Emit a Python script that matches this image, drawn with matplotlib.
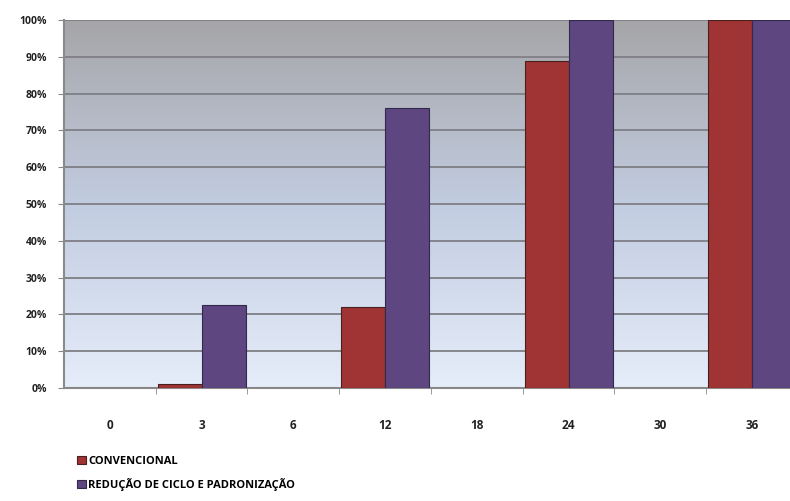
import numpy as np
import matplotlib.pyplot as plt

# dados
meses = ['0', '3', '6', '12', '18', '24', '30', '36']
convencional = [0, 1, 0, 22, 0, 89, 0, 100]
reducao = [0, 22.5, 0, 76, 0, 100, 0, 100]
yticks = [0, 10, 20, 30, 40, 50, 60, 70, 80, 90, 100]

plt.rcParams['font.family'] = ['Open Sans', 'DejaVu Sans']

fig = plt.figure(figsize=(7.9, 5.01), dpi=100)
ax = fig.add_axes([0.081, 0.2255, 0.929, 0.7345])

x = np.arange(len(meses))
ax.set_xlim(-0.5, len(meses) - 0.5)
ax.set_ylim(0, 100)

# fundo em degradê (cinza em cima, azul claro embaixo)
top = np.array([0.65, 0.65, 0.66])
mid = np.array([0.76, 0.80, 0.88])
bot = np.array([0.90, 0.93, 0.98])
n = 256
t = np.linspace(0, 1, n)[:, None]
grad = np.where(t < 0.5, top + (mid - top) * (t / 0.5), mid + (bot - mid) * ((t - 0.5) / 0.5))
img = grad.reshape(n, 1, 3)
ax.imshow(img, extent=[-0.5, len(meses) - 0.5, 0, 100], aspect='auto', zorder=0, origin='upper')

for yv in yticks[1:]:
    ax.axhline(yv, color='#7f7f85', lw=1.3, zorder=1)

w = 0.48
ax.bar(x - w / 2, convencional, width=w, color='#a03434', edgecolor='#4a1f1f', lw=0.8,
       label='CONVENCIONAL', zorder=3)
ax.bar(x + w / 2, reducao, width=w, color='#5e4680', edgecolor='#33294a', lw=0.8,
       label='REDUÇÃO DE CICLO E PADRONIZAÇÃO', zorder=3)

ax.set_yticks(yticks)
ax.set_yticklabels([f'{v}%' for v in yticks], fontsize=7.5, color='#222222', fontweight='bold')
ax.set_xticks(x)
ax.set_xticklabels(meses, fontsize=8.5, color='#222222', fontweight='bold')
ax.set_xticks(np.arange(len(meses)) + 0.5, minor=True)
ax.tick_params(axis='x', which='major', length=0, pad=22)
ax.tick_params(axis='x', which='minor', length=4, color='#888888', direction='out')
ax.tick_params(axis='y', length=4, color='#888888', pad=8)

for s in ['top', 'right']:
    ax.spines[s].set_visible(False)
ax.spines['left'].set_color('#8a8a8a')
ax.spines['left'].set_linewidth(1.5)
ax.spines['bottom'].set_color('#8a8a8a')
ax.spines['bottom'].set_linewidth(1.5)

fig.legend(loc='lower left', bbox_to_anchor=(0.085, 0.0), frameon=False,
           prop={'size': 8, 'weight': 'bold'},
           handlelength=0.8, handleheight=0.8, handletextpad=0.2, labelspacing=1.0)

fig.savefig('out.png', dpi=100)
